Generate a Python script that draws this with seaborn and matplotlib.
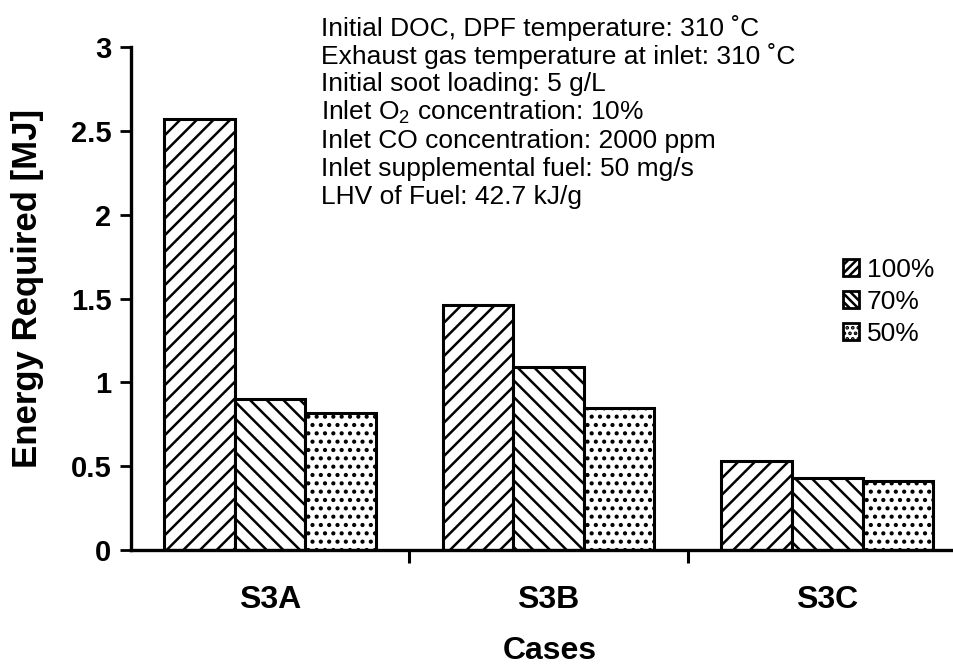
import pandas as pd
import seaborn as sns
import matplotlib.pyplot as plt
import matplotlib.patches as mpatches

# Data
cases = ['S3A', 'S3B', 'S3C']
loads = ['100%', '70%', '50%']
energy_100 = [2.57, 1.46, 0.53]
energy_70 = [0.90, 1.09, 0.43]
energy_50 = [0.82, 0.85, 0.41]

notes = [
    'Initial DOC, DPF temperature: 310 \u02daC',
    'Exhaust gas temperature at inlet: 310 \u02daC',
    'Initial soot loading: 5 g/L',
    'Inlet O$_2$ concentration: 10%',
    'Inlet CO concentration: 2000 ppm',
    'Inlet supplemental fuel: 50 mg/s',
    'LHV of Fuel: 42.7 kJ/g',
]

df = pd.DataFrame({
    'case': cases * 3,
    'load': [l for l in loads for _ in cases],
    'energy': energy_100 + energy_70 + energy_50,
})

sns.set_style('white')
plt.rcParams['font.family'] = ['Liberation Sans', 'DejaVu Sans']
plt.rcParams['mathtext.default'] = 'regular'
plt.rcParams['hatch.linewidth'] = 1.8
plt.rcParams['text.color'] = 'black'
plt.rcParams['axes.labelcolor'] = 'black'
plt.rcParams['xtick.color'] = 'black'
plt.rcParams['ytick.color'] = 'black'

fig = plt.figure(figsize=(9.54, 6.65), dpi=100)
ax = fig.add_axes([0.137, 0.173, 0.863, 0.756])

sns.barplot(data=df, x='case', y='energy', hue='load', hue_order=loads,
            order=cases, palette={l: 'white' for l in loads},
            edgecolor='black', linewidth=2.2, width=0.76,
            legend=False, ax=ax)

hatches = ['//', '\\\\', '..']
for container, h in zip(ax.containers, hatches):
    for bar in container:
        bar.set_hatch(h)

ax.set_ylim(0, 3)
ax.set_xlim(-0.5, 2.455)
ax.set_yticks([0, 0.5, 1, 1.5, 2, 2.5, 3])
ax.set_yticklabels(['0', '0.5', '1', '1.5', '2', '2.5', '3'])
ax.set_xticks([0.5, 1.5], minor=True)

for s in ['top', 'right']:
    ax.spines[s].set_visible(False)
for s in ['left', 'bottom']:
    ax.spines[s].set_linewidth(2.4)
    ax.spines[s].set_color('black')

ax.tick_params(axis='y', which='major', direction='out', length=8, width=2,
               labelsize=21, pad=6, left=True)
ax.tick_params(axis='x', which='major', length=0, labelsize=23, pad=25)
ax.tick_params(axis='x', which='minor', direction='out', length=9, width=2.2,
               bottom=True)
for lbl in ax.get_xticklabels() + ax.get_yticklabels():
    lbl.set_fontweight('bold')

ax.set_xlabel('Cases', fontsize=23, fontweight='bold')
ax.xaxis.set_label_coords(0.509, -0.172)
ax.set_ylabel('Energy Required [MJ]', fontsize=25, fontweight='bold')
ax.yaxis.set_label_coords(-0.105, 0.521)

# notes block
for i, line in enumerate(notes):
    fig.text(0.337, 1 - (28 + 28.2 * i) / 665, line, fontsize=19,
             ha='left', va='center')

legend_hatches = ['////', '\\\\\\\\', '...']
handles = [mpatches.Patch(facecolor='white', edgecolor='black', linewidth=2,
                          hatch=h, label=l)
           for h, l in zip(legend_hatches, loads)]
fig.legend(handles=handles, loc='upper left', bbox_to_anchor=(0.87, 0.632),
           frameon=False, fontsize=19, handlelength=0.6, handleheight=0.6,
           handletextpad=0.3, labelspacing=0.3, borderpad=0)

fig.savefig('out.png', dpi=100)
